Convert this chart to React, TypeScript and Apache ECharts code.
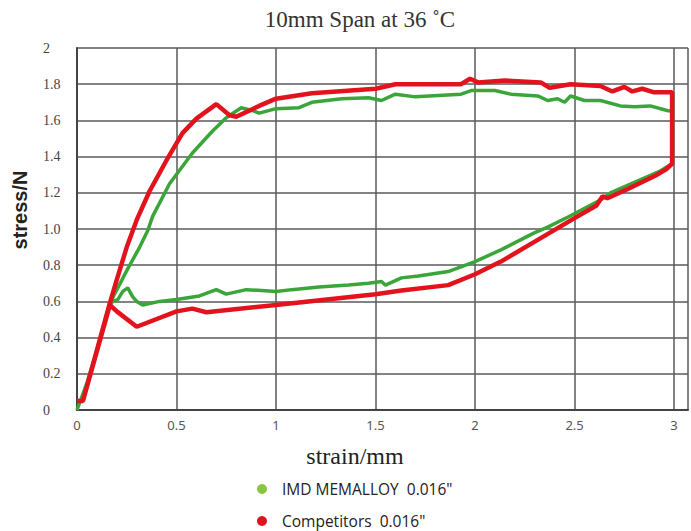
import React, { useEffect, useRef } from "react";
import * as echarts from "echarts";

const TITLE = "10mm Span at 36 ˚C";
const X_NAME = "strain/mm";
const Y_NAME = "stress/N";
const SERIES_NAMES = ["IMD MEMALLOY  0.016\"", "Competitors  0.016\""];

const greenX = [
  0, 0.05, 0.1, 0.165, 0.25, 0.315, 0.355, 0.38, 0.465, 0.58, 0.68, 0.75, 0.825, 0.88, 0.915, 1.0,
  1.115, 1.18, 1.33, 1.465, 1.53, 1.6, 1.7, 1.93, 1.98, 2.1, 2.18, 2.315, 2.365, 2.415, 2.45, 2.48,
  2.55, 2.63, 2.73, 2.8, 2.88, 2.965, 2.99, 2.99, 2.93, 2.68, 2.63, 2.465, 2.365, 2.3, 2.13, 2.0,
  1.865, 1.715, 1.63, 1.55, 1.53, 1.465, 1.365, 1.215, 1.08, 1.0, 0.85, 0.75, 0.7, 0.615, 0.5,
  0.415, 0.33, 0.3, 0.28, 0.255, 0.23, 0.205, 0.18, 0.165,
];
const greenY = [
  0, 0.15, 0.33, 0.59, 0.77, 0.9, 0.99, 1.07, 1.25, 1.42, 1.54, 1.615, 1.67, 1.655, 1.64, 1.665,
  1.67, 1.7, 1.72, 1.725, 1.71, 1.745, 1.73, 1.745, 1.765, 1.765, 1.745, 1.735, 1.71, 1.72, 1.7, 1.735,
  1.71, 1.71, 1.68, 1.675, 1.68, 1.655, 1.65, 1.36, 1.32, 1.2, 1.16, 1.065, 1.01, 0.98, 0.885, 0.82,
  0.765, 0.74, 0.73, 0.69, 0.71, 0.7, 0.69, 0.68, 0.665, 0.655, 0.665, 0.64, 0.665, 0.63, 0.61,
  0.6, 0.58, 0.6, 0.625, 0.675, 0.655, 0.61, 0.6, 0.58,
];

const redX = [
  0, 0.03, 0.165, 0.2, 0.25, 0.3, 0.365, 0.45, 0.53, 0.6, 0.7, 0.765, 0.8, 0.915, 1.0, 1.18, 1.5,
  1.6, 1.93, 1.975, 2.015, 2.15, 2.33, 2.375, 2.48, 2.63, 2.69, 2.75, 2.79, 2.84, 2.9, 2.99, 2.99,
  2.96, 2.915, 2.765, 2.665, 2.64, 2.61, 2.5, 2.3, 2.13, 2.0, 1.865, 1.63, 1.5, 1.0, 0.65, 0.58, 0.5,
  0.3, 0.2, 0.165, 0.03,
];
const redY = [
  0.05, 0.05, 0.59, 0.72, 0.9, 1.05, 1.21, 1.38, 1.53, 1.61, 1.69, 1.63, 1.62, 1.68, 1.72, 1.75, 1.775,
  1.8, 1.8, 1.83, 1.81, 1.82, 1.81, 1.78, 1.8, 1.79, 1.76, 1.785, 1.76, 1.775, 1.755, 1.755, 1.36,
  1.33, 1.3, 1.22, 1.17, 1.18, 1.13, 1.06, 0.93, 0.82, 0.75, 0.69, 0.66, 0.64, 0.58, 0.54, 0.56, 0.545,
  0.46, 0.545, 0.58, 0.05,
];

const zip = (xs: number[], ys: number[]) => xs.map((x, i) => [x, ys[i]]);

const legendText = {
  fontFamily: "Liberation Sans Narrow, Open Sans",
  fontSize: 15.5,
  lineHeight: 18,
  color: "#222",
  padding: [0, 0, 0, 10],
};

export default function App() {
  const ref = useRef<HTMLDivElement>(null);
  useEffect(() => {
    if (!ref.current) return;
    const chart = echarts.init(ref.current, null, { renderer: "svg" });
    chart.setOption({
      animation: false,
      backgroundColor: "#ffffff",
      title: {
        text: TITLE,
        left: 355,
        top: 3,
        textAlign: "center",
        textStyle: { fontFamily: "Liberation Serif", fontSize: 23, fontWeight: "normal", color: "#333" },
      },
      grid: { left: 77, top: 48, right: 0, bottom: 121 },
      xAxis: {
        type: "value",
        min: 0,
        max: 3.07,
        interval: 0.5,
        axisLine: { show: true, lineStyle: { color: "#444", width: 2 } },
        axisTick: { show: false },
        axisLabel: {
          margin: 8,
          fontFamily: "Noto Sans",
          fontSize: 13,
          color: "#555",
          formatter: (v: number) => (Math.abs(v * 2 - Math.round(v * 2)) > 1e-6 ? "" : String(v)),
        },
        splitLine: { show: true, lineStyle: { color: "#5a5a5a", width: 1.5 } },
      },
      yAxis: {
        type: "value",
        min: 0,
        max: 2,
        interval: 0.2,
        axisLine: { show: true, lineStyle: { color: "#444", width: 2 } },
        axisTick: { show: false },
        axisLabel: {
          margin: 34,
          align: "left",
          fontFamily: "Liberation Serif",
          fontSize: 14,
          color: "#444",
          formatter: (v: number) => (v === 0 ? "0" : Math.abs(v - 2) < 1e-9 ? "2" : v.toFixed(1)),
        },
        splitLine: { show: true, lineStyle: { color: "#5a5a5a", width: 1.5 } },
      },
      legend: [
        {
          left: 257,
          top: 480,
          padding: 0,
          itemWidth: 10,
          itemHeight: 10,
          icon: "circle",
          textStyle: legendText,
          data: [{ name: SERIES_NAMES[0], itemStyle: { color: "#8cc43f" } }],
        },
        {
          left: 257,
          top: 512,
          padding: 0,
          itemWidth: 10,
          itemHeight: 10,
          icon: "circle",
          textStyle: legendText,
          data: [{ name: SERIES_NAMES[1], itemStyle: { color: "#e5101f" } }],
        },
      ],
      graphic: [
        {
          type: "text",
          x: 355,
          y: 456,
          style: {
            text: X_NAME,
            fill: "#222",
            font: "24px 'Liberation Serif'",
            align: "center",
            verticalAlign: "middle",
          },
        },
        {
          type: "text",
          x: 20,
          y: 210,
          rotation: Math.PI / 2,
          style: {
            text: Y_NAME,
            fill: "#222",
            font: "bold 20px 'Liberation Sans'",
            align: "center",
            verticalAlign: "middle",
          },
        },
      ],
      series: [
        {
          name: SERIES_NAMES[0],
          type: "line",
          data: zip(greenX, greenY),
          showSymbol: false,
          lineStyle: { color: "#3aa63a", width: 3.5 },
          itemStyle: { color: "#8cc43f" },
          z: 2,
        },
        {
          name: SERIES_NAMES[1],
          type: "line",
          data: zip(redX, redY),
          showSymbol: false,
          lineStyle: { color: "#e3131d", width: 4.5 },
          itemStyle: { color: "#e5101f" },
          z: 3,
        },
      ],
    });
    return () => chart.dispose();
  }, []);
  return <div ref={ref} style={{ position: "absolute", left: 0, top: 0, width: 691, height: 531 }} />;
}
